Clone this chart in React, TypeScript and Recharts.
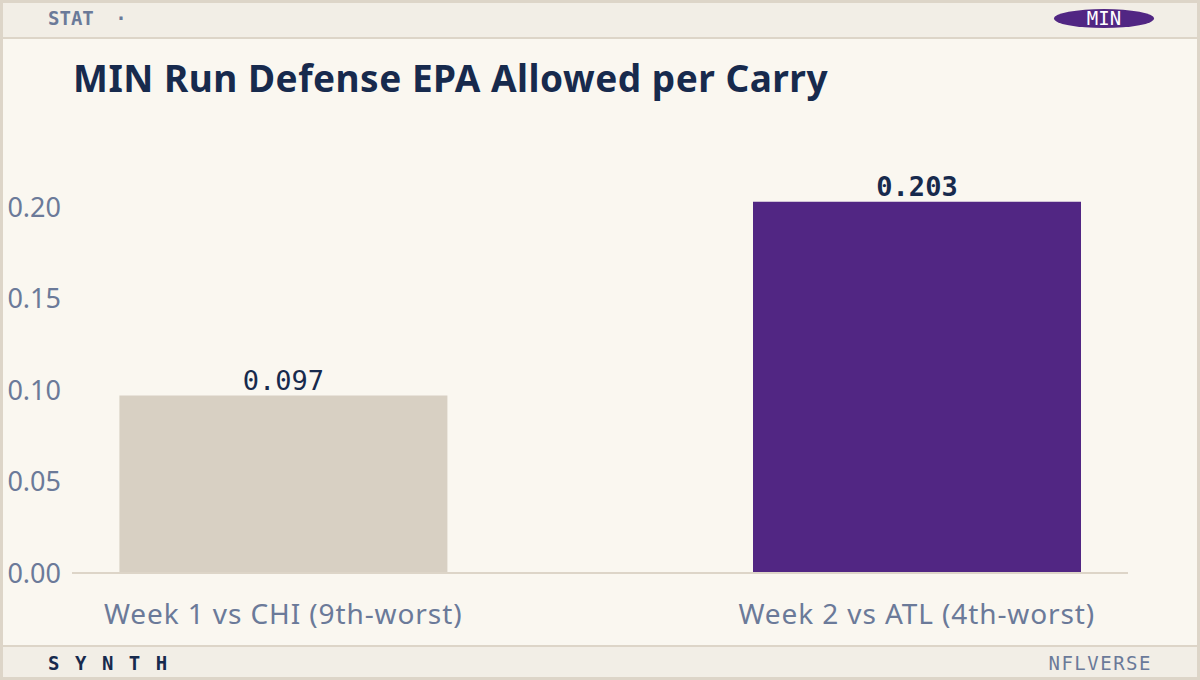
import React from 'react';
import { BarChart, Bar, XAxis, YAxis, Cell, LabelList } from 'recharts';

const categories = ['Week 1 vs CHI (9th-worst)', 'Week 2 vs ATL (4th-worst)'];
const positions = [0, 1];
const epaValues = [0.097, 0.203];
const yTicks = [0, 0.05, 0.1, 0.15, 0.2];
const barColors = ['#d8d0c3', '#512683'];

const data = categories.map((name, i) => ({ x: positions[i], name, epa: epaValues[i] }));

const SANS = '"Noto Sans", Roboto, sans-serif';
const MONO = '"DejaVu Sans Mono", "Liberation Mono", monospace';
const BORDER = '#ddd5c8';

const ValueLabel = (props: any) => {
  const { x, y, width, value, index } = props;
  return (
    <text
      x={x + width / 2}
      y={y - 6}
      textAnchor="middle"
      fontFamily={MONO}
      fontSize={27}
      fontWeight={index === 1 ? 700 : 400}
      fill="#172a4d"
    >
      {value.toFixed(3)}
    </text>
  );
};

const App: React.FC = () => {
  return (
    <div
      style={{
        position: 'absolute',
        left: 0,
        top: 0,
        width: 1200,
        height: 680,
        boxSizing: 'border-box',
        border: `3px solid ${BORDER}`,
        background: '#faf7f0',
        overflow: 'hidden',
      }}
    >
      {/* header strip */}
      <div
        style={{
          position: 'absolute',
          left: 0,
          top: 0,
          width: 1194,
          height: 34,
          background: '#f2eee6',
          borderBottom: `2px solid ${BORDER}`,
        }}
      >
        <span
          style={{
            position: 'absolute',
            left: 45,
            top: 4,
            fontFamily: MONO,
            fontWeight: 700,
            fontSize: 19,
            color: '#6b7a99',
          }}
        >
          STAT <span style={{ marginLeft: 10 }}>·</span>
        </span>
        <div
          style={{
            position: 'absolute',
            left: 1051,
            top: 6,
            width: 100,
            height: 19,
            borderRadius: '50%',
            background: '#512683',
            color: '#ffffff',
            fontFamily: MONO,
            fontSize: 19,
            lineHeight: '19px',
            textAlign: 'center',
          }}
        >
          MIN
        </div>
      </div>

      <div
        style={{
          position: 'absolute',
          left: 70,
          top: 49,
          fontFamily: SANS,
          fontWeight: 700,
          fontSize: 37,
          letterSpacing: 0.5,
          color: '#172a4d',
          whiteSpace: 'nowrap',
        }}
      >
        MIN Run Defense EPA Allowed per Carry
      </div>

      <div style={{ position: 'absolute', left: -3, top: -3 }}>
        <BarChart
          width={1200}
          height={680}
          data={data}
          margin={{ top: 134, right: 72, bottom: 47, left: 0 }}
        >
          <XAxis
            dataKey="x"
            type="number"
            domain={[-1 / 3, 4 / 3]}
            ticks={positions}
            tickFormatter={(v: number) => categories[v] ?? ''}
            axisLine={{ stroke: BORDER, strokeWidth: 2 }}
            tickLine={false}
            tickSize={0}
            tickMargin={31}
            height={60}
            tick={{ fill: '#6b7a99', fontSize: 28, fontFamily: SANS, letterSpacing: 0.9 }}
          />
          <YAxis
            domain={[0, 0.24]}
            ticks={yTicks}
            tickFormatter={(v: number) => v.toFixed(2)}
            axisLine={false}
            tickLine={false}
            tickSize={0}
            tickMargin={11}
            width={72}
            tick={{ fill: '#6b7a99', fontSize: 27, fontFamily: SANS }}
          />
          <Bar dataKey="epa" barSize={328} isAnimationActive={false}>
            {data.map((_, i) => (
              <Cell key={`c-${i}`} fill={barColors[i]} />
            ))}
            <LabelList dataKey="epa" content={<ValueLabel />} />
          </Bar>
        </BarChart>
      </div>

      {/* footer strip */}
      <div
        style={{
          position: 'absolute',
          left: 0,
          top: 642,
          width: 1194,
          height: 32,
          background: '#f2eee6',
          borderTop: `2px solid ${BORDER}`,
        }}
      >
        <span
          style={{
            position: 'absolute',
            left: 45,
            top: 5,
            fontFamily: MONO,
            fontWeight: 700,
            fontSize: 19,
            letterSpacing: 15.5,
            color: '#172a4d',
          }}
        >
          SYNTH
        </span>
        <span
          style={{
            position: 'absolute',
            right: 45,
            top: 5,
            fontFamily: MONO,
            fontSize: 19,
            letterSpacing: 1.5,
            color: '#6b7a99',
          }}
        >
          NFLVERSE
        </span>
      </div>
    </div>
  );
};

export default App;
